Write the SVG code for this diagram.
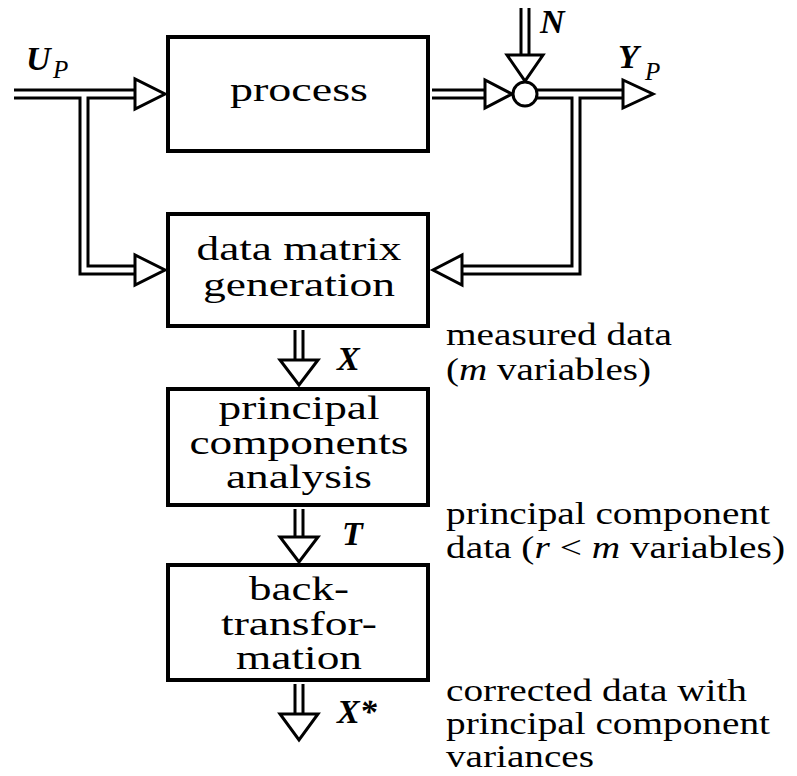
<svg xmlns="http://www.w3.org/2000/svg" width="797" height="776" viewBox="0 0 797 776" font-family="Liberation Serif, Times New Roman, serif">
<style>
.box{fill:#fff;stroke:#000;stroke-width:4}
.dl{fill:none;stroke:#000;stroke-width:11;stroke-linejoin:miter}
.dw{fill:none;stroke:#fff;stroke-width:5;stroke-linejoin:miter}
.ah{fill:#fff;stroke:#000;stroke-width:3;stroke-linejoin:miter}
.t{font-size:34px;text-anchor:middle}
.r{font-size:31px}
.lab{font-size:34px;font-weight:bold;font-style:italic}
.sub{font-size:25px;font-style:italic}
.i{font-style:italic}
</style>
<rect width="797" height="776" fill="#fff"/>
<g id="connectors">
<path class="dl" d="M14,94 H135"/>
<path class="dl" d="M84,94 V270 H135"/>
<path class="dl" d="M432,94 H485"/>
<path class="dl" d="M537,94 H623"/>
<path class="dl" d="M576,94 V270 H462"/>
<path class="dl" d="M525,8 V55"/>
<path class="dl" d="M299,330 V360"/>
<path class="dl" d="M299,509 V537"/>
<path class="dl" d="M299,684 V714"/>
<path class="dw" d="M14,94 H135"/>
<path class="dw" d="M84,94 V270 H135"/>
<path class="dw" d="M432,94 H485"/>
<path class="dw" d="M537,94 H623"/>
<path class="dw" d="M576,94 V270 H462"/>
<path class="dw" d="M525,8 V55"/>
<path class="dw" d="M299,330 V360"/>
<path class="dw" d="M299,509 V537"/>
<path class="dw" d="M299,684 V714"/>
<polygon class="ah" points="135,79 135,109 165,94"/>
<polygon class="ah" points="135,255 135,285 165,270"/>
<polygon class="ah" points="485,80 485,108 512,94"/>
<polygon class="ah" points="623,80 623,108 653,94"/>
<polygon class="ah" points="462,255 462,285 433,270"/>
<polygon class="ah" points="507,55 543,55 525,81"/>
<polygon class="ah" points="280,360 318,360 299,385"/>
<polygon class="ah" points="280,537 318,537 299,562"/>
<polygon class="ah" points="280,714 318,714 299,740"/>
</g>
<g id="sum">
<circle cx="525" cy="94" r="12" fill="#fff" stroke="#000" stroke-width="3"/>
</g>
<g id="process">
<rect class="box" x="168" y="37" width="260" height="114"/>
<text class="t" x="299" y="101" textLength="138" lengthAdjust="spacingAndGlyphs">process</text>
</g>
<g id="data_matrix">
<rect class="box" x="168" y="214" width="260" height="112"/>
<text class="t" x="299" y="260" textLength="205" lengthAdjust="spacingAndGlyphs">data matrix</text>
<text class="t" x="299" y="296" textLength="192" lengthAdjust="spacingAndGlyphs">generation</text>
</g>
<g id="pca">
<rect class="box" x="168" y="389" width="260" height="116"/>
<text class="t" x="299" y="419" textLength="161" lengthAdjust="spacingAndGlyphs">principal</text>
<text class="t" x="299" y="454" textLength="219" lengthAdjust="spacingAndGlyphs">components</text>
<text class="t" x="299" y="488" textLength="146" lengthAdjust="spacingAndGlyphs">analysis</text>
</g>
<g id="back_transformation">
<rect class="box" x="168" y="565" width="260" height="115"/>
<text class="t" x="299" y="600" textLength="100" lengthAdjust="spacingAndGlyphs">back-</text>
<text class="t" x="299" y="635" textLength="156" lengthAdjust="spacingAndGlyphs">transfor-</text>
<text class="t" x="299" y="669" textLength="126" lengthAdjust="spacingAndGlyphs">mation</text>
</g>
<g id="labels">
<text class="lab" x="26" y="70">U</text><text class="sub" x="53" y="78">P</text>
<text class="lab" x="540" y="33">N</text>
<text class="lab" x="618" y="68">Y</text><text class="sub" x="645" y="80">P</text>
<text class="lab" x="337" y="370">X</text>
<text class="lab" x="342" y="545">T</text>
<text class="lab" x="337" y="723">X*</text>
</g>
<g id="annotations">
<text class="r" x="446" y="345" textLength="226" lengthAdjust="spacingAndGlyphs">measured data</text>
<text class="r" x="446" y="380" textLength="205" lengthAdjust="spacingAndGlyphs">(<tspan class="i">m</tspan> variables)</text>
<text class="r" x="446" y="524" textLength="324" lengthAdjust="spacingAndGlyphs">principal component</text>
<text class="r" x="446" y="558" textLength="339" lengthAdjust="spacingAndGlyphs">data (<tspan class="i">r</tspan> &lt; <tspan class="i">m</tspan> variables)</text>
<text class="r" x="446" y="701" textLength="301" lengthAdjust="spacingAndGlyphs">corrected data with</text>
<text class="r" x="446" y="734" textLength="324" lengthAdjust="spacingAndGlyphs">principal component</text>
<text class="r" x="446" y="767" textLength="148" lengthAdjust="spacingAndGlyphs">variances</text>
</g>
</svg>
